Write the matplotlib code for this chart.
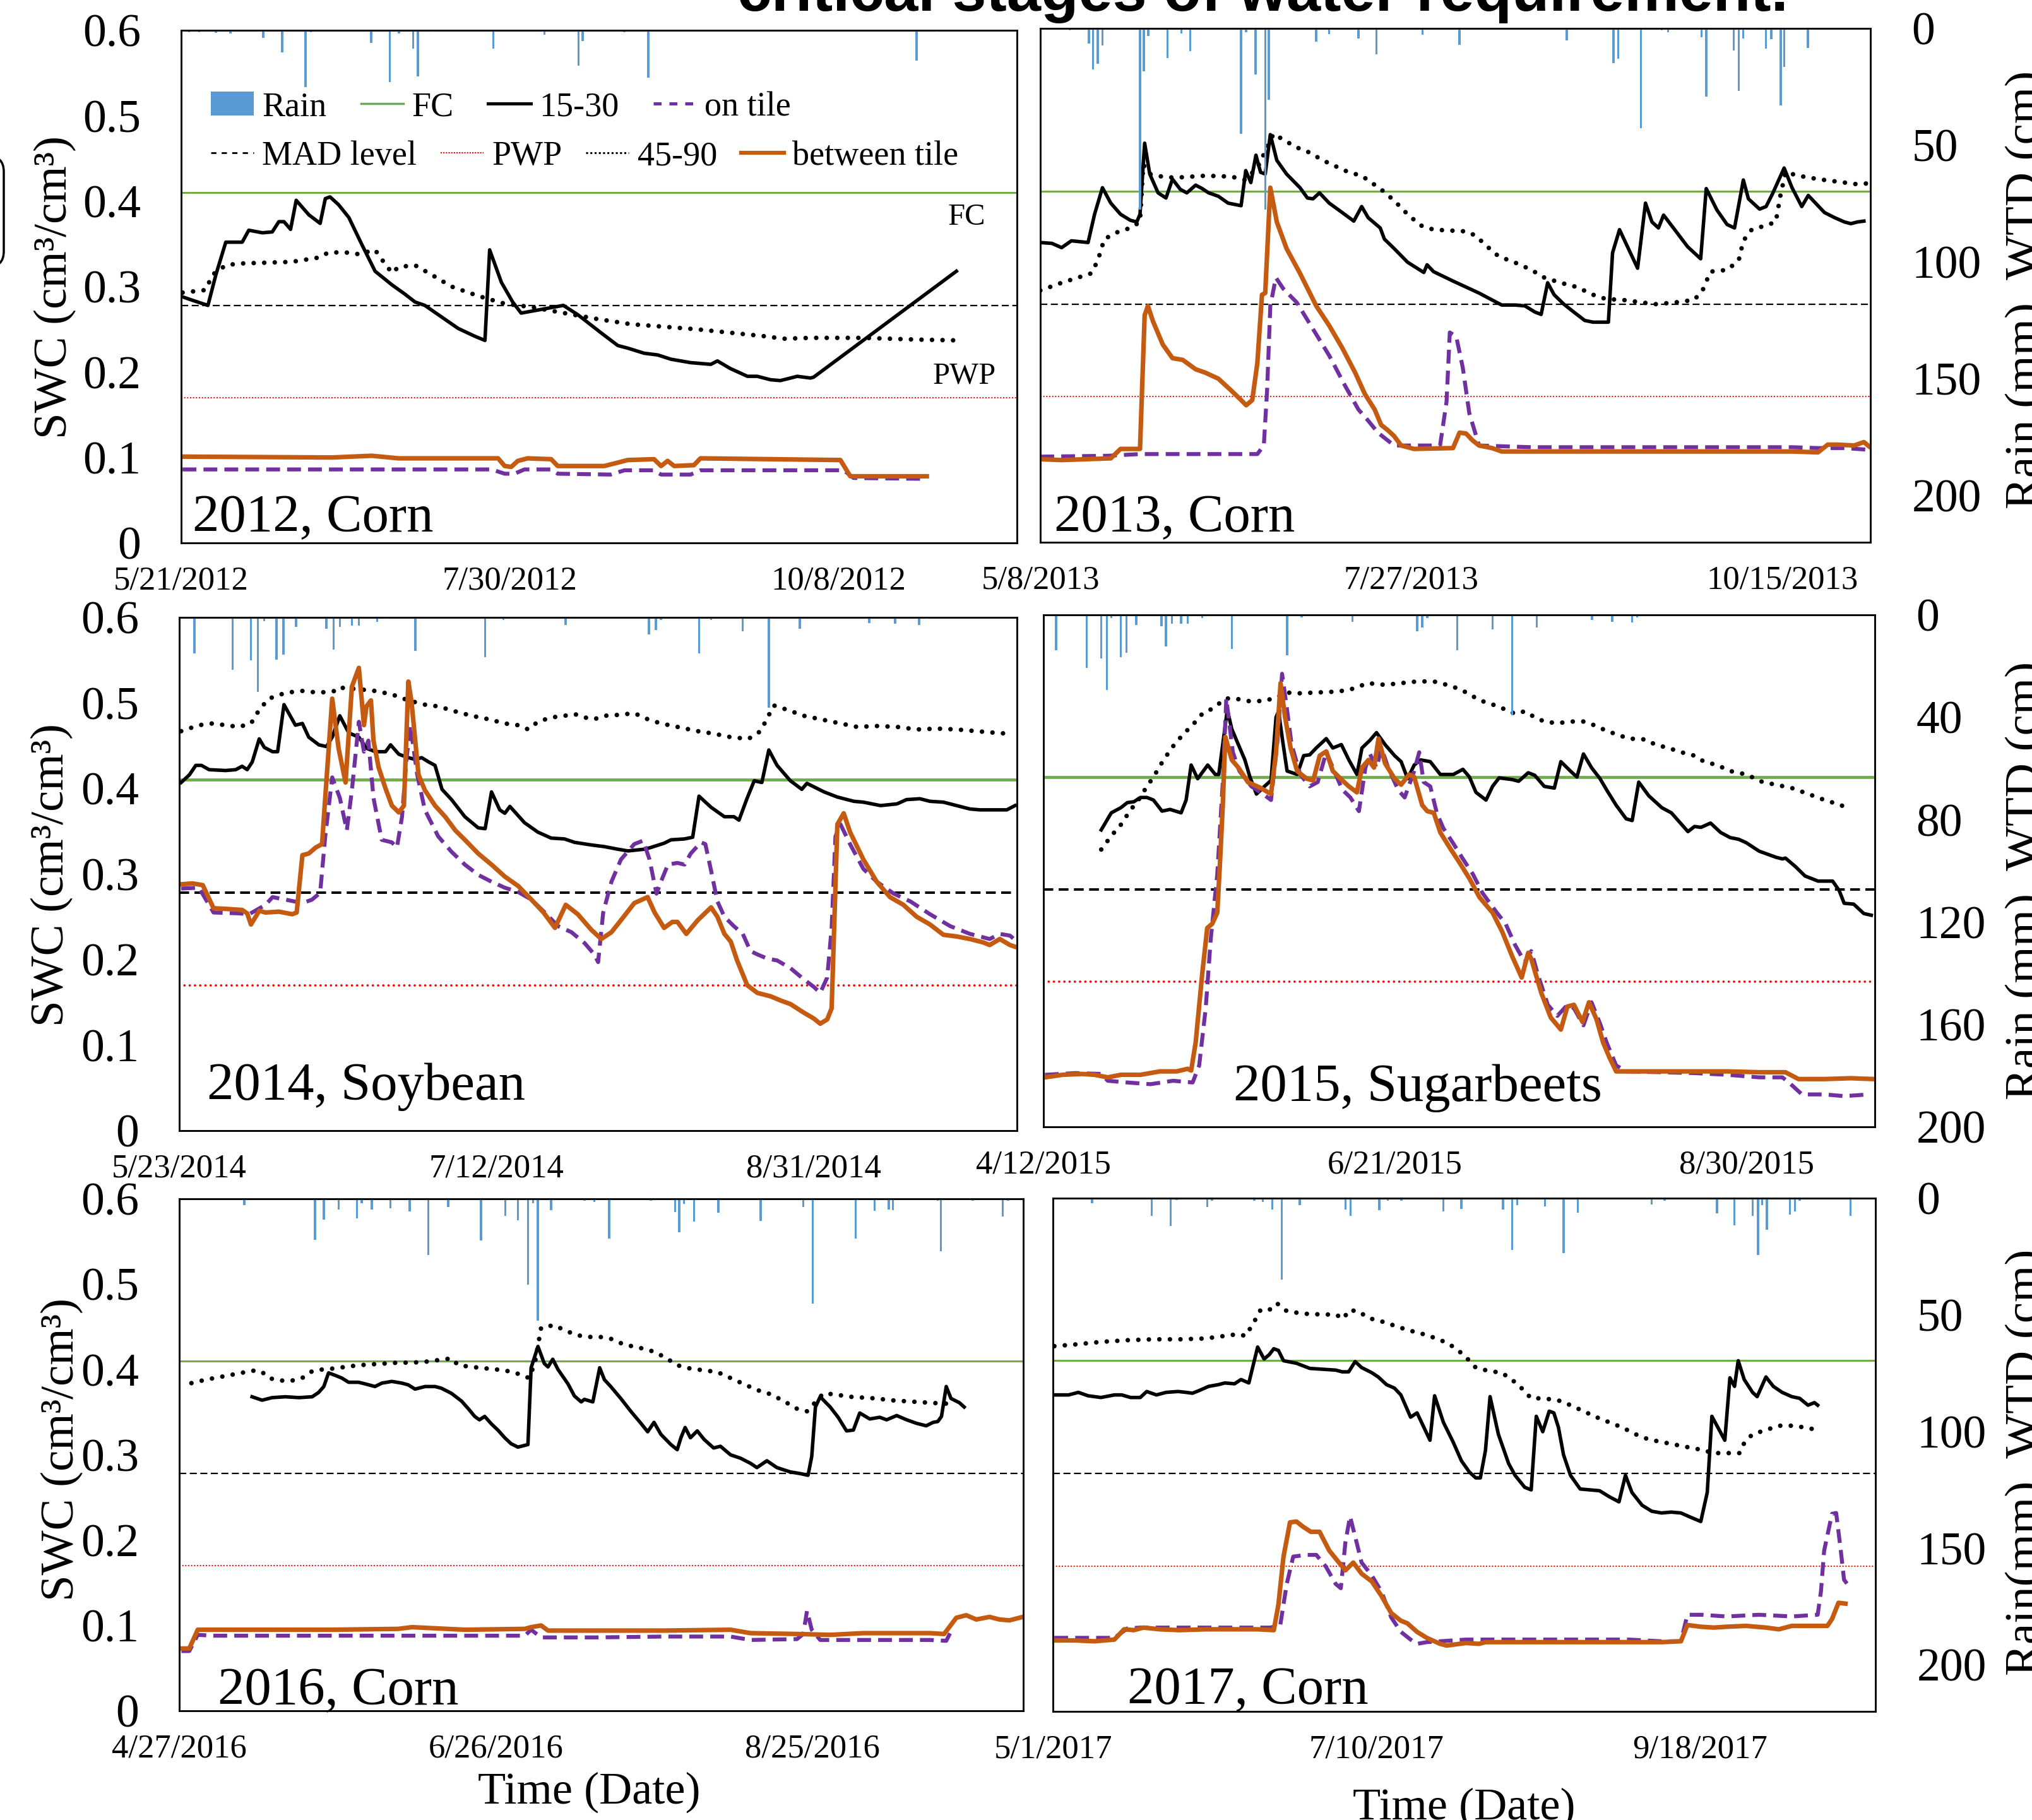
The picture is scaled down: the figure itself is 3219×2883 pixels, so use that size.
import matplotlib
matplotlib.use('Agg')
import matplotlib.pyplot as plt
from matplotlib.lines import Line2D
from matplotlib.patches import Patch, FancyBboxPatch

plt.rcParams['font.family'] = ['Liberation Serif', 'DejaVu Serif']

W, H = 3219, 2883

FC = 0.41
MAD = 0.278
PWP = 0.17

green = '#70AD47'
blue = '#5B9BD5'
orange = '#C55A11'
purple = '#7030A0'

swc_ticks = [0, 0.1, 0.2, 0.3, 0.4, 0.5, 0.6]
swc_labels = ['0', '0.1', '0.2', '0.3', '0.4', '0.5', '0.6']

# ---------------- 2012, Corn ----------------
dates_2012 = ['5/21/2012', '7/30/2012', '10/8/2012']
s2012_1530 = [(0.3, 0.288), (2.4, 0.284), (5.7, 0.278), (7.4, 0.314), (9.5, 0.352), (13.0, 0.352), (14.4, 0.366),
              (17.3, 0.363), (19.4, 0.364), (20.8, 0.376), (21.9, 0.376), (23.3, 0.367), (24.5, 0.401), (27.2, 0.384),
              (29.6, 0.374), (30.7, 0.403), (31.7, 0.405), (33.5, 0.396), (35.7, 0.381), (38.5, 0.349), (41.3, 0.318),
              (44.9, 0.302), (47.7, 0.291), (49.8, 0.282), (51.9, 0.278), (59.0, 0.251), (62.5, 0.242), (64.7, 0.237),
              (65.7, 0.343), (68.2, 0.305), (70.6, 0.282), (72.4, 0.269), (81.4, 0.278), (84.5, 0.267), (89.4, 0.246),
              (93.0, 0.231), (95.1, 0.228), (98.6, 0.222), (101.5, 0.220), (104.3, 0.215), (108.5, 0.211),
              (112.8, 0.209), (114.2, 0.213), (117.0, 0.204), (120.6, 0.195), (122.7, 0.195), (125.5, 0.191),
              (127.6, 0.190), (129.8, 0.193), (131.2, 0.195), (134.0, 0.193), (134.7, 0.194), (165.1, 0.318)]
s2012_4590 = [(0.3, 0.293), (5.2, 0.296), (6.7, 0.314), (9.5, 0.325), (12.3, 0.327), (18.0, 0.328), (23.6, 0.329),
              (29.3, 0.334), (31.4, 0.340), (35.0, 0.340), (37.8, 0.338), (41.3, 0.343), (42.7, 0.332), (44.9, 0.316),
              (46.3, 0.323), (49.8, 0.325), (53.3, 0.314), (57.6, 0.300), (63.3, 0.289), (68.9, 0.280), (74.6, 0.276),
              (81.6, 0.269), (88.7, 0.262), (95.8, 0.256), (102.9, 0.253), (109.9, 0.250), (117.0, 0.246),
              (124.1, 0.242), (128.3, 0.239), (134.0, 0.240), (145.3, 0.240), (156.6, 0.238), (165.8, 0.237)]
s2012_btw = [(0.3, 0.101), (32.1, 0.100), (40.6, 0.102), (46.3, 0.099), (67.5, 0.099), (68.9, 0.090), (70.3, 0.089),
             (71.7, 0.096), (73.8, 0.099), (78.8, 0.098), (80.2, 0.090), (90.1, 0.090), (93.0, 0.094), (95.1, 0.097),
             (100.7, 0.098), (102.2, 0.090), (103.6, 0.096), (105.0, 0.090), (109.2, 0.091), (110.6, 0.099),
             (140.4, 0.097), (142.5, 0.078), (158.8, 0.078)]
s2012_on = [(0.3, 0.086), (66.1, 0.086), (68.9, 0.081), (71.0, 0.081), (73.1, 0.086), (78.8, 0.086), (80.2, 0.081),
            (91.5, 0.080), (94.4, 0.085), (100.7, 0.085), (102.2, 0.080), (108.5, 0.080), (110.6, 0.085),
            (141.1, 0.085), (143.2, 0.076), (158.1, 0.075), (158.8, 0.078)]
rain_2012 = [(1.7, 0.8), (3.8, 0.8), (7.4, 1.1), (10.5, 1.3), (17.5, 3.3), (21.5, 9.4), (26.5, 24.3), (27.6, 0.8),
             (40.5, 5.3), (44.4, 22.2), (46.4, 1.3), (49.4, 7.9), (50.4, 19.7), (53.6, 0.5), (66.5, 7.9), (77.4, 2.0),
             (84.6, 15.1), (85.5, 4.6), (94.4, 0.8), (99.5, 20.2), (117.0, 0.3), (125.5, 0.3), (156.6, 13.1),
             (160.9, 0.5)]

# ---------------- 2013, Corn ----------------
dates_2013 = ['5/8/2013', '7/27/2013', '10/15/2013']
s2013_1530 = [(0, 0.350), (2.5, 0.349), (4.6, 0.344), (6.7, 0.352), (10.3, 0.350), (11.7, 0.383), (13.4, 0.414),
              (15.2, 0.396), (17.3, 0.383), (19.4, 0.376), (20.8, 0.374), (21.5, 0.383), (22.5, 0.466), (23.6, 0.430),
              (25.4, 0.408), (27.1, 0.402), (28.5, 0.424), (30.2, 0.412), (31.6, 0.408), (33.5, 0.417), (34.9, 0.413),
              (36.3, 0.408), (38.4, 0.404), (40.5, 0.396), (43.3, 0.393), (44.3, 0.434), (45.4, 0.420), (46.5, 0.452),
              (47.5, 0.432), (48.5, 0.430), (49.6, 0.476), (51.0, 0.446), (53.1, 0.430), (56.0, 0.414), (57.6, 0.402),
              (58.8, 0.401), (60.2, 0.408), (62.3, 0.396), (65.1, 0.385), (67.6, 0.375), (69.3, 0.392), (70.7, 0.379),
              (73.3, 0.367), (74.2, 0.354), (76.3, 0.343), (79.2, 0.327), (82.7, 0.315), (83.4, 0.324), (84.8, 0.316),
              (89.0, 0.305), (94.6, 0.291), (97.4, 0.283), (99.5, 0.277), (102.4, 0.277), (104.5, 0.276),
              (106.6, 0.269), (108.0, 0.266), (109.4, 0.303), (110.8, 0.289), (112.9, 0.278), (115.0, 0.269),
              (117.4, 0.259), (119.2, 0.257), (122.5, 0.257), (123.4, 0.338), (124.9, 0.365), (128.8, 0.320),
              (130.5, 0.396), (131.9, 0.374), (133.3, 0.367), (134.4, 0.382), (136.1, 0.370), (139.6, 0.345),
              (142.4, 0.331), (143.6, 0.413), (145.9, 0.388), (148.1, 0.371), (149.7, 0.367), (151.6, 0.423),
              (152.7, 0.401), (155.1, 0.389), (156.5, 0.392), (157.9, 0.407), (160.4, 0.437), (162.1, 0.414),
              (164.2, 0.392), (165.6, 0.405), (169.1, 0.385), (171.3, 0.379), (173.4, 0.374), (174.8, 0.372),
              (176.2, 0.374), (177.6, 0.375)]
s2013_4590 = [(0, 0.294), (4.6, 0.303), (11.0, 0.314), (12.4, 0.329), (13.8, 0.354), (16.6, 0.362), (19.4, 0.367),
              (21.5, 0.374), (22.2, 0.441), (23.6, 0.430), (27.1, 0.426), (29.9, 0.426), (35.6, 0.428), (41.2, 0.427),
              (44.0, 0.423), (46.8, 0.437), (50.3, 0.477), (52.4, 0.470), (55.3, 0.461), (58.1, 0.455), (60.9, 0.446),
              (63.7, 0.439), (66.5, 0.432), (69.3, 0.428), (71.4, 0.420), (73.5, 0.412), (76.3, 0.399), (79.2, 0.383),
              (82.0, 0.370), (84.8, 0.365), (91.8, 0.363), (93.9, 0.358), (96.0, 0.347), (98.8, 0.334),
              (103.1, 0.325), (105.9, 0.318), (108.7, 0.309), (112.2, 0.303), (115.7, 0.298), (119.2, 0.289),
              (122.0, 0.284), (125.6, 0.283), (129.8, 0.280), (132.6, 0.278), (136.8, 0.280), (141.0, 0.283),
              (142.8, 0.294), (144.5, 0.316), (148.1, 0.318), (150.6, 0.329), (151.6, 0.352), (153.4, 0.365),
              (156.5, 0.370), (158.6, 0.374), (159.6, 0.405), (160.7, 0.432), (163.5, 0.428), (167.7, 0.424),
              (172.0, 0.421), (176.2, 0.418), (178.3, 0.419)]
s2013_btw = [(0, 0.097), (4.6, 0.096), (15.2, 0.098), (17.3, 0.109), (21.5, 0.109), (22.5, 0.265), (23.2, 0.276),
             (24.3, 0.258), (26.4, 0.231), (28.5, 0.215), (30.7, 0.213), (33.5, 0.202), (35.6, 0.198), (38.4, 0.191),
             (41.2, 0.177), (43.3, 0.166), (44.4, 0.160), (45.7, 0.166), (46.8, 0.209), (47.8, 0.289), (48.5, 0.291),
             (49.6, 0.414), (51.0, 0.374), (53.1, 0.343), (56.0, 0.314), (59.5, 0.276), (62.3, 0.253), (65.1, 0.227),
             (67.9, 0.198), (70.0, 0.173), (72.1, 0.155), (73.5, 0.137), (74.9, 0.131), (76.3, 0.124), (77.8, 0.113),
             (80.6, 0.109), (89.0, 0.110), (90.4, 0.128), (91.8, 0.127), (93.2, 0.119), (94.6, 0.113), (97.4, 0.110),
             (99.5, 0.106), (119.9, 0.106), (134.0, 0.106), (162.1, 0.106), (167.7, 0.105), (169.8, 0.114),
             (172.0, 0.114), (175.5, 0.113), (177.6, 0.117), (178.7, 0.112)]
s2013_on = [(0, 0.100), (14.5, 0.101), (21.5, 0.103), (46.8, 0.103), (48.2, 0.113), (48.9, 0.177), (49.6, 0.276),
            (50.8, 0.309), (52.4, 0.296), (55.3, 0.280), (58.8, 0.249), (62.3, 0.218), (65.8, 0.182), (68.6, 0.155),
            (70.7, 0.142), (72.8, 0.128), (76.3, 0.113), (86.2, 0.113), (87.6, 0.164), (88.3, 0.245), (89.7, 0.240),
            (91.1, 0.204), (92.5, 0.151), (94.6, 0.113), (105.9, 0.111), (134.0, 0.111), (162.1, 0.111),
            (167.7, 0.110), (173.4, 0.110), (178.7, 0.108)]
rain_2013 = [(6.3, 0.8), (10.5, 6.6), (11.4, 17.7), (12.4, 15.2), (13.4, 7.4), (21.5, 77.5), (22.3, 18.4), (23.3, 3.3),
             (27.4, 12.6), (30.4, 2.1), (32.3, 9.8), (43.3, 45.1), (44.4, 1.6), (46.4, 19.7), (48.5, 77.5),
             (49.3, 30.6), (59.5, 5.7), (62.3, 2.5), (68.6, 4.4), (72.5, 11.1), (82.4, 2.8), (90.4, 6.9),
             (113.5, 5.2), (123.6, 14.8), (124.6, 13.1), (129.5, 42.6), (134.0, 0.8), (135.4, 1.6), (142.6, 3.8),
             (143.6, 29.2), (149.5, 9.5), (150.6, 26.7), (151.6, 4.4), (156.5, 8.7), (157.6, 4.6), (159.7, 33.1),
             (160.4, 16.4), (165.5, 8.5)]

# ---------------- 2014, Soybean ----------------
dates_2014 = ['5/23/2014', '7/12/2014', '8/31/2014']
s2014_1530 = [(0.3, 0.407), (1.6, 0.416), (2.6, 0.427), (3.5, 0.427), (4.7, 0.422), (7.3, 0.421), (8.9, 0.422),
              (9.9, 0.426), (10.7, 0.422), (11.5, 0.431), (12.6, 0.458), (13.4, 0.448), (14.7, 0.443), (15.5, 0.443),
              (16.5, 0.498), (18.3, 0.474), (19.4, 0.476), (20.4, 0.460), (22.0, 0.451), (23.2, 0.449), (24.1, 0.460),
              (25.3, 0.485), (26.7, 0.465), (28.3, 0.460), (29.5, 0.447), (30.9, 0.443), (32.5, 0.443), (33.3, 0.451),
              (34.6, 0.440), (36.1, 0.436), (37.2, 0.434), (38.2, 0.436), (39.3, 0.431), (40.3, 0.427), (41.4, 0.399),
              (42.9, 0.387), (45.0, 0.367), (47.1, 0.354), (48.2, 0.353), (49.2, 0.396), (50.5, 0.375), (51.3, 0.371),
              (52.1, 0.379), (54.4, 0.360), (56.5, 0.349), (58.6, 0.342), (60.7, 0.341), (62.3, 0.337), (64.9, 0.334),
              (67.0, 0.332), (69.1, 0.329), (70.7, 0.327), (73.3, 0.329), (74.3, 0.331), (76.4, 0.336), (77.5, 0.340),
              (79.6, 0.341), (80.9, 0.343), (81.9, 0.391), (83.8, 0.378), (85.9, 0.367), (87.4, 0.367), (88.2, 0.363),
              (89.5, 0.389), (90.6, 0.409), (91.8, 0.407), (92.9, 0.445), (94.2, 0.427), (96.3, 0.409), (98.1, 0.399),
              (98.9, 0.406), (101.6, 0.396), (103.7, 0.390), (106.3, 0.385), (107.8, 0.384), (110.5, 0.380),
              (113.1, 0.382), (114.6, 0.387), (116.7, 0.388), (118.3, 0.385), (120.4, 0.384), (122.5, 0.380),
              (124.6, 0.376), (126.2, 0.375), (128.8, 0.375), (130.4, 0.375), (131.7, 0.380)]
s2014_4590 = [(0.3, 0.467), (3.1, 0.474), (5.2, 0.476), (7.3, 0.474), (9.4, 0.472), (11.3, 0.476), (12.6, 0.492),
              (14.1, 0.505), (16.8, 0.512), (19.4, 0.514), (22.0, 0.512), (24.6, 0.514), (25.1, 0.518), (28.3, 0.516),
              (30.9, 0.514), (33.5, 0.510), (36.1, 0.503), (38.7, 0.498), (40.8, 0.496), (44.0, 0.489), (46.1, 0.485),
              (48.7, 0.481), (51.3, 0.476), (53.4, 0.474), (55.0, 0.469), (56.5, 0.478), (58.6, 0.483), (60.7, 0.485),
              (62.3, 0.487), (63.9, 0.483), (65.4, 0.481), (67.0, 0.485), (69.1, 0.486), (71.7, 0.488), (73.8, 0.481),
              (75.9, 0.476), (78.5, 0.472), (81.7, 0.467), (84.3, 0.464), (86.9, 0.460), (89.7, 0.458), (91.6, 0.467),
              (92.7, 0.483), (93.7, 0.497), (95.8, 0.492), (98.4, 0.485), (101.0, 0.481), (104.2, 0.476),
              (106.8, 0.472), (109.9, 0.473), (113.1, 0.472), (116.2, 0.469), (119.4, 0.470), (122.5, 0.469),
              (125.6, 0.467), (128.8, 0.465), (130.7, 0.464)]
s2014_btw = [(0.3, 0.288), (2.1, 0.289), (3.7, 0.287), (5.4, 0.260), (7.9, 0.259), (9.9, 0.258), (10.7, 0.254),
             (11.3, 0.241), (12.6, 0.257), (13.6, 0.255), (15.7, 0.256), (17.8, 0.253), (18.5, 0.255), (19.4, 0.322),
             (20.4, 0.324), (21.5, 0.331), (22.5, 0.335), (23.0, 0.389), (24.1, 0.505), (25.1, 0.447), (26.2, 0.407),
             (27.2, 0.519), (28.3, 0.541), (29.1, 0.474), (29.5, 0.496), (30.2, 0.503), (30.6, 0.456), (31.4, 0.425),
             (32.5, 0.400), (33.5, 0.380), (34.6, 0.372), (35.4, 0.380), (36.1, 0.525), (36.6, 0.501), (37.7, 0.416),
             (38.7, 0.398), (40.3, 0.380), (41.9, 0.367), (43.5, 0.351), (45.0, 0.340), (47.1, 0.324), (49.2, 0.311),
             (51.3, 0.297), (53.4, 0.286), (55.5, 0.270), (57.4, 0.255), (59.2, 0.237), (60.9, 0.264), (62.8, 0.253),
             (64.9, 0.235), (66.5, 0.224), (68.1, 0.232), (69.6, 0.246), (71.7, 0.266), (73.8, 0.273), (74.9, 0.255),
             (76.4, 0.237), (77.7, 0.244), (78.5, 0.244), (79.9, 0.230), (81.7, 0.246), (83.8, 0.261), (84.8, 0.250),
             (85.9, 0.230), (86.9, 0.221), (87.9, 0.199), (89.5, 0.170), (91.1, 0.161), (93.2, 0.157), (94.8, 0.152),
             (96.3, 0.148), (98.4, 0.138), (100.0, 0.131), (101.0, 0.125), (102.1, 0.130), (102.8, 0.143),
             (103.7, 0.358), (104.7, 0.371), (105.7, 0.349), (107.8, 0.317), (109.9, 0.291), (112.0, 0.273),
             (114.1, 0.264), (116.2, 0.250), (118.3, 0.241), (120.4, 0.229), (122.5, 0.227), (124.6, 0.224),
             (126.7, 0.220), (127.7, 0.217), (129.3, 0.224), (130.9, 0.217), (131.7, 0.215)]
s2014_on = [(0.3, 0.283), (3.1, 0.284), (5.4, 0.255), (9.4, 0.254), (11.0, 0.253), (13.6, 0.264), (14.7, 0.273),
            (16.8, 0.270), (19.4, 0.266), (20.9, 0.270), (22.2, 0.278), (23.0, 0.344), (24.1, 0.413), (25.3, 0.389),
            (26.4, 0.351), (27.2, 0.398), (28.3, 0.478), (29.1, 0.443), (29.8, 0.456), (30.6, 0.389), (31.9, 0.340),
            (33.5, 0.337), (34.3, 0.331), (35.1, 0.367), (35.8, 0.434), (36.4, 0.474), (37.5, 0.416), (38.7, 0.375),
            (40.8, 0.344), (42.9, 0.326), (45.0, 0.311), (47.1, 0.299), (49.2, 0.291), (51.3, 0.284), (53.4, 0.279),
            (55.5, 0.270), (57.6, 0.255), (59.7, 0.239), (61.8, 0.232), (63.9, 0.219), (65.4, 0.206), (66.0, 0.197),
            (66.8, 0.255), (68.1, 0.291), (69.6, 0.317), (71.7, 0.335), (73.1, 0.339), (74.1, 0.317), (75.2, 0.277),
            (75.9, 0.291), (77.0, 0.311), (78.5, 0.313), (79.6, 0.311), (80.6, 0.324), (82.2, 0.337), (82.9, 0.335),
            (83.8, 0.304), (84.8, 0.268), (85.9, 0.250), (87.4, 0.239), (88.8, 0.230), (90.0, 0.210), (91.1, 0.206),
            (92.7, 0.201), (94.2, 0.199), (96.3, 0.190), (98.4, 0.177), (100.0, 0.168), (101.0, 0.161),
            (102.1, 0.179), (102.8, 0.237), (103.4, 0.344), (104.2, 0.358), (105.7, 0.335), (107.8, 0.306),
            (109.9, 0.291), (112.6, 0.277), (115.2, 0.268), (118.3, 0.253), (121.5, 0.239), (124.6, 0.230),
            (127.7, 0.224), (129.3, 0.230), (130.9, 0.228), (131.7, 0.223)]
rain_2014 = [(2.4, 14.0), (8.4, 20.4), (11.3, 16.7), (12.4, 29.1), (13.4, 1.5), (15.3, 16.4), (16.4, 14.5),
             (18.4, 3.7), (23.2, 4.5), (24.3, 12.5), (25.3, 3.6), (27.2, 3.3), (28.3, 3.3), (31.2, 1.8), (32.5, 0.6),
             (37.2, 13.0), (48.2, 15.5), (51.1, 1.0), (60.9, 3.0), (74.0, 6.6), (75.1, 4.8), (75.9, 1.0), (78.8, 0.3),
             (81.9, 14.0), (83.8, 1.0), (88.8, 5.5), (92.9, 35.3), (97.8, 4.5), (108.7, 2.1), (112.8, 2.5),
             (116.6, 3.0), (117.8, 0.6)]

# ---------------- 2015, Sugarbeets ----------------
dates_2015 = ['4/12/2015', '6/21/2015', '8/30/2015']
s2015_1530 = [(11.5, 0.348), (13.5, 0.368), (15.4, 0.374), (16.7, 0.380), (18.0, 0.381), (19.3, 0.386), (20.6, 0.386),
              (21.9, 0.383), (23.6, 0.370), (25.2, 0.372), (27.4, 0.368), (28.4, 0.383), (29.4, 0.424), (30.7, 0.408),
              (32.7, 0.424), (34.2, 0.413), (34.9, 0.413), (36.6, 0.489), (37.5, 0.466), (38.8, 0.448), (40.1, 0.430),
              (41.1, 0.410), (42.4, 0.390), (44.0, 0.399), (45.3, 0.406), (46.3, 0.480), (46.8, 0.487), (47.6, 0.453),
              (48.5, 0.417), (50.5, 0.413), (51.8, 0.435), (53.0, 0.436), (54.3, 0.444), (56.3, 0.455), (57.6, 0.444),
              (59.3, 0.448), (60.8, 0.430), (62.4, 0.413), (63.4, 0.444), (65.0, 0.453), (66.3, 0.462), (68.0, 0.448),
              (69.9, 0.435), (71.2, 0.428), (72.5, 0.408), (73.8, 0.424), (75.1, 0.430), (77.0, 0.428), (79.0, 0.413),
              (81.6, 0.413), (83.5, 0.419), (84.8, 0.410), (86.1, 0.392), (88.1, 0.383), (89.4, 0.399), (90.7, 0.409),
              (93.3, 0.407), (94.6, 0.405), (96.5, 0.415), (97.8, 0.412), (99.7, 0.399), (101.7, 0.397),
              (103.0, 0.428), (104.9, 0.417), (106.2, 0.410), (107.5, 0.437), (109.1, 0.421), (110.8, 0.408),
              (112.1, 0.395), (114.0, 0.377), (116.0, 0.361), (117.2, 0.359), (118.5, 0.404), (120.5, 0.388),
              (123.1, 0.374), (125.0, 0.368), (128.3, 0.346), (129.6, 0.352), (130.9, 0.351), (132.8, 0.356),
              (134.8, 0.345), (136.7, 0.339), (138.4, 0.337), (139.9, 0.333), (142.5, 0.323), (145.8, 0.316),
              (147.1, 0.314), (147.7, 0.315), (149.7, 0.305), (151.6, 0.294), (154.2, 0.288), (157.1, 0.288),
              (158.4, 0.277), (159.4, 0.262), (161.3, 0.261), (163.3, 0.250), (164.8, 0.248)]
s2015_4590 = [(11.5, 0.325), (13.5, 0.341), (15.4, 0.354), (17.4, 0.372), (18.7, 0.381), (20.6, 0.399), (21.9, 0.410),
              (23.9, 0.430), (25.8, 0.446), (27.8, 0.460), (29.7, 0.471), (31.6, 0.484), (33.9, 0.491), (36.2, 0.502),
              (38.1, 0.502), (40.7, 0.499), (44.0, 0.499), (46.6, 0.504), (48.5, 0.509), (50.5, 0.508), (54.3, 0.509),
              (58.2, 0.510), (60.8, 0.512), (62.8, 0.516), (64.5, 0.520), (68.0, 0.518), (71.2, 0.520), (74.4, 0.522),
              (77.7, 0.522), (80.3, 0.518), (82.9, 0.513), (84.8, 0.507), (86.8, 0.500), (89.4, 0.495), (92.0, 0.489),
              (93.9, 0.484), (95.8, 0.487), (97.8, 0.480), (99.7, 0.475), (102.3, 0.473), (104.9, 0.475),
              (107.5, 0.475), (109.5, 0.471), (111.4, 0.466), (114.0, 0.460), (116.6, 0.455), (119.8, 0.454),
              (121.8, 0.448), (124.4, 0.444), (127.0, 0.439), (129.6, 0.435), (131.5, 0.428), (134.1, 0.424),
              (136.7, 0.417), (139.9, 0.413), (143.2, 0.404), (145.8, 0.401), (149.0, 0.397), (152.3, 0.390),
              (155.5, 0.383), (158.8, 0.377), (160.7, 0.370)]
s2015_btw = [(0.3, 0.058), (3.8, 0.061), (7.7, 0.062), (10.2, 0.061), (12.8, 0.058), (15.4, 0.061), (19.3, 0.061),
             (23.2, 0.065), (26.5, 0.065), (28.7, 0.068), (29.4, 0.066), (30.3, 0.099), (31.6, 0.179), (32.6, 0.233),
             (33.6, 0.238), (34.6, 0.251), (35.1, 0.305), (35.7, 0.377), (36.2, 0.457), (37.5, 0.430), (38.8, 0.421),
             (40.7, 0.404), (43.3, 0.397), (45.3, 0.390), (46.3, 0.439), (47.2, 0.520), (48.1, 0.480), (49.2, 0.444),
             (50.5, 0.417), (52.4, 0.408), (53.7, 0.406), (55.0, 0.435), (56.3, 0.440), (57.6, 0.417), (59.5, 0.406),
             (60.8, 0.399), (62.4, 0.392), (63.4, 0.421), (64.7, 0.430), (65.8, 0.421), (66.7, 0.455), (68.0, 0.426),
             (69.9, 0.408), (71.2, 0.401), (72.8, 0.413), (73.8, 0.410), (75.4, 0.377), (76.4, 0.370), (77.7, 0.368),
             (79.0, 0.345), (80.9, 0.327), (82.9, 0.309), (84.8, 0.291), (86.8, 0.269), (89.4, 0.251), (91.3, 0.229),
             (93.3, 0.200), (95.2, 0.175), (96.5, 0.204), (97.1, 0.197), (99.1, 0.157), (101.0, 0.128),
             (103.0, 0.114), (104.3, 0.141), (105.6, 0.143), (107.3, 0.123), (108.6, 0.146), (110.1, 0.126),
             (111.4, 0.099), (112.7, 0.081), (114.0, 0.065), (117.9, 0.065), (123.1, 0.065), (129.6, 0.065),
             (136.1, 0.065), (142.5, 0.064), (147.7, 0.064), (150.3, 0.056), (155.5, 0.056), (160.7, 0.057),
             (165.2, 0.056)]
s2015_on = [(0.3, 0.061), (6.4, 0.063), (11.5, 0.062), (12.8, 0.054), (16.7, 0.052), (21.3, 0.050), (25.8, 0.054),
            (29.7, 0.052), (31.0, 0.072), (32.3, 0.139), (33.3, 0.220), (34.6, 0.296), (35.7, 0.404), (36.4, 0.502),
            (37.7, 0.439), (39.0, 0.417), (41.4, 0.399), (43.7, 0.390), (45.3, 0.383), (46.6, 0.453), (47.5, 0.531),
            (48.4, 0.493), (49.4, 0.448), (51.1, 0.413), (53.0, 0.399), (54.6, 0.404), (56.3, 0.439), (57.6, 0.421),
            (59.5, 0.395), (61.1, 0.386), (62.8, 0.370), (64.1, 0.421), (65.0, 0.437), (66.3, 0.421), (67.3, 0.444),
            (68.6, 0.421), (70.6, 0.395), (71.9, 0.386), (73.8, 0.417), (74.8, 0.439), (75.7, 0.404), (77.0, 0.399),
            (78.3, 0.368), (79.6, 0.350), (81.6, 0.332), (83.5, 0.314), (85.5, 0.296), (87.4, 0.274), (90.0, 0.253),
            (92.0, 0.238), (93.9, 0.213), (95.8, 0.193), (97.1, 0.206), (98.4, 0.179), (100.4, 0.143),
            (102.3, 0.130), (104.3, 0.143), (105.6, 0.139), (107.5, 0.119), (109.1, 0.146), (110.8, 0.121),
            (112.1, 0.099), (114.0, 0.072), (116.0, 0.065), (123.1, 0.064), (129.6, 0.063), (136.1, 0.061),
            (142.5, 0.058), (147.1, 0.058), (148.4, 0.052), (151.0, 0.038), (155.5, 0.038), (159.4, 0.036),
            (164.3, 0.038)]
rain_2015 = [(2.5, 13.9), (8.6, 20.6), (11.5, 16.9), (12.6, 29.3), (13.5, 1.2), (15.4, 16.4), (16.5, 14.7),
             (18.5, 3.9), (23.5, 4.5), (24.4, 12.4), (25.6, 3.4), (27.4, 3.4), (28.7, 3.4), (31.6, 1.2), (37.5, 13.2),
             (48.5, 15.8), (51.4, 0.9), (61.5, 2.7), (74.4, 6.4), (75.4, 4.9), (76.4, 1.2), (82.4, 13.8), (89.4, 5.7),
             (93.3, 39.3), (98.2, 4.9), (109.2, 1.9), (113.2, 2.7), (117.2, 3.0), (118.2, 0.9)]

# ---------------- 2016, Corn ----------------
dates_2016 = ['4/27/2016', '6/26/2016', '8/25/2016']
s2016_1530 = [(13.8, 0.368), (15.7, 0.364), (17.6, 0.367), (20.1, 0.368), (22.7, 0.367), (25.2, 0.368), (26.4, 0.373),
              (27.4, 0.380), (28.3, 0.396), (29.6, 0.393), (30.8, 0.390), (32.1, 0.385), (34.0, 0.385), (35.3, 0.383),
              (37.1, 0.380), (38.4, 0.384), (40.3, 0.386), (42.2, 0.384), (43.4, 0.382), (44.7, 0.377), (46.6, 0.380),
              (48.5, 0.380), (49.7, 0.378), (51.6, 0.372), (53.5, 0.363), (54.8, 0.354), (56.0, 0.345), (56.9, 0.341),
              (57.9, 0.345), (59.2, 0.336), (60.4, 0.329), (61.7, 0.320), (62.9, 0.313), (64.2, 0.309), (66.1, 0.312),
              (66.7, 0.402), (68.0, 0.427), (69.2, 0.407), (69.9, 0.403), (70.8, 0.412), (71.8, 0.400), (73.7, 0.383),
              (74.9, 0.369), (76.2, 0.362), (76.8, 0.365), (78.4, 0.362), (79.7, 0.402), (80.6, 0.388), (81.8, 0.380),
              (83.7, 0.366), (85.6, 0.351), (87.5, 0.337), (88.8, 0.327), (90.0, 0.338), (91.3, 0.324), (93.2, 0.312),
              (94.4, 0.306), (95.1, 0.320), (95.9, 0.332), (96.9, 0.320), (98.2, 0.328), (99.5, 0.318), (101.3, 0.308),
              (102.6, 0.310), (104.5, 0.300), (106.4, 0.296), (108.3, 0.290), (109.5, 0.285), (111.4, 0.293),
              (113.3, 0.285), (115.8, 0.280), (117.7, 0.278), (119.2, 0.276), (119.9, 0.298), (120.6, 0.356),
              (121.5, 0.368), (123.4, 0.356), (124.9, 0.344), (126.5, 0.328), (127.8, 0.329), (129.0, 0.349),
              (130.9, 0.342), (132.8, 0.344), (134.1, 0.341), (136.0, 0.346), (137.9, 0.341), (139.7, 0.337),
              (141.6, 0.334), (142.9, 0.338), (143.8, 0.339), (144.5, 0.345), (145.4, 0.380), (146.3, 0.366),
              (147.9, 0.361), (148.8, 0.356)]
s2016_4590 = [(2.3, 0.384), (5.0, 0.388), (7.6, 0.391), (10.1, 0.394), (12.6, 0.397), (14.5, 0.399), (15.7, 0.397),
              (17.0, 0.390), (18.9, 0.387), (21.4, 0.387), (23.3, 0.390), (25.2, 0.398), (27.1, 0.400), (29.0, 0.401),
              (31.5, 0.403), (34.0, 0.405), (36.5, 0.406), (39.0, 0.407), (41.5, 0.408), (44.1, 0.408), (46.6, 0.409),
              (49.1, 0.411), (51.6, 0.413), (52.9, 0.405), (55.4, 0.403), (58.5, 0.401), (61.7, 0.399), (64.2, 0.395),
              (66.3, 0.390), (67.4, 0.407), (68.6, 0.449), (71.1, 0.452), (73.0, 0.446), (75.5, 0.440), (78.1, 0.438),
              (79.9, 0.438), (81.8, 0.436), (84.4, 0.429), (86.9, 0.426), (89.4, 0.422), (91.9, 0.415), (94.4, 0.405),
              (96.9, 0.401), (99.5, 0.399), (102.0, 0.397), (104.5, 0.390), (107.0, 0.383), (109.5, 0.376),
              (112.1, 0.371), (114.6, 0.363), (117.1, 0.354), (119.0, 0.351), (120.2, 0.359), (122.1, 0.372),
              (124.0, 0.371), (127.2, 0.368), (129.7, 0.367), (132.2, 0.366), (134.7, 0.364), (137.2, 0.363),
              (139.7, 0.362), (142.3, 0.361), (144.8, 0.360), (147.3, 0.360)]
s2016_btw = [(0.4, 0.073), (1.9, 0.073), (3.5, 0.095), (6.3, 0.095), (16.4, 0.095), (29.0, 0.095), (41.5, 0.096),
             (44.1, 0.098), (54.1, 0.095), (65.5, 0.096), (66.7, 0.098), (68.6, 0.100), (69.9, 0.094), (79.3, 0.094),
             (91.9, 0.094), (104.5, 0.095), (108.3, 0.091), (117.1, 0.090), (123.4, 0.089), (129.7, 0.091),
             (142.3, 0.091), (145.0, 0.090), (147.3, 0.109), (149.2, 0.112), (151.1, 0.107), (153.6, 0.110),
             (155.5, 0.107), (157.4, 0.106), (159.9, 0.110)]
s2016_on = [(0.4, 0.070), (1.9, 0.070), (3.5, 0.089), (6.3, 0.088), (16.4, 0.088), (29.0, 0.088), (41.5, 0.088),
            (54.1, 0.088), (65.5, 0.088), (66.7, 0.095), (68.6, 0.086), (79.3, 0.086), (91.9, 0.087), (104.5, 0.087),
            (108.3, 0.083), (117.1, 0.084), (118.3, 0.090), (119.0, 0.117), (119.9, 0.095), (121.5, 0.083),
            (129.7, 0.083), (142.3, 0.083), (145.4, 0.082), (146.3, 0.093)]
rain_2016 = [(12.3, 2.7), (25.7, 17.5), (27.4, 8.9), (30.2, 4.5), (33.7, 8.4), (34.6, 1.8), (36.5, 4.5), (40.0, 4.1),
             (43.7, 5.4), (47.2, 24.2), (51.0, 3.6), (57.2, 17.9), (61.8, 7.2), (64.2, 9.3), (66.1, 36.9),
             (67.1, 1.8), (68.0, 52.4), (70.5, 5.0), (76.8, 0.9), (78.7, 1.3), (81.5, 17.0), (89.4, 0.9), (94.0, 5.7),
             (94.8, 14.3), (95.7, 2.3), (97.6, 9.8), (102.2, 5.9), (110.2, 9.5), (118.3, 3.6), (120.1, 45.1),
             (128.2, 17.0), (131.8, 5.2), (134.5, 4.5), (135.3, 5.0), (143.8, 0.9), (144.4, 22.4), (150.4, 0.9),
             (156.1, 7.5), (157.1, 0.9)]

# ---------------- 2017, Corn ----------------
dates_2017 = ['5/1/2017', '7/10/2017', '9/18/2017']
s2017_1530 = [(0.3, 0.370), (3.4, 0.370), (5.5, 0.373), (7.6, 0.369), (10.4, 0.367), (13.3, 0.370), (14.9, 0.370),
              (16.8, 0.367), (18.9, 0.367), (20.3, 0.374), (22.4, 0.370), (24.5, 0.373), (27.1, 0.374), (28.8, 0.373),
              (30.2, 0.372), (31.6, 0.375), (33.7, 0.380), (35.8, 0.382), (37.2, 0.384), (39.3, 0.383), (40.7, 0.388),
              (42.4, 0.384), (44.3, 0.426), (45.7, 0.412), (46.8, 0.417), (47.8, 0.424), (48.8, 0.422), (49.9, 0.410),
              (52.7, 0.407), (55.6, 0.401), (58.4, 0.400), (61.2, 0.399), (62.6, 0.397), (64.0, 0.397), (65.4, 0.409),
              (66.8, 0.402), (69.0, 0.396), (70.4, 0.391), (72.2, 0.382), (73.9, 0.378), (75.3, 0.370), (77.4, 0.344),
              (78.8, 0.349), (81.6, 0.317), (82.6, 0.369), (84.5, 0.338), (86.6, 0.315), (88.4, 0.293), (90.1, 0.280),
              (91.5, 0.273), (92.5, 0.273), (93.6, 0.305), (94.6, 0.368), (96.4, 0.324), (98.6, 0.290), (100.0, 0.276),
              (102.1, 0.262), (103.5, 0.259), (104.6, 0.345), (106.0, 0.327), (107.4, 0.351), (108.4, 0.349),
              (109.4, 0.332), (110.5, 0.300), (112.0, 0.276), (114.1, 0.260), (118.3, 0.258), (120.4, 0.251),
              (122.5, 0.245), (123.9, 0.276), (125.3, 0.256), (127.5, 0.241), (129.6, 0.234), (131.7, 0.232),
              (133.8, 0.233), (135.9, 0.232), (138.0, 0.227), (140.2, 0.222), (141.6, 0.256), (142.6, 0.345),
              (143.7, 0.334), (145.4, 0.317), (146.5, 0.390), (147.5, 0.380), (148.3, 0.410), (149.6, 0.388),
              (151.4, 0.373), (152.4, 0.368), (154.3, 0.391), (155.9, 0.380), (157.8, 0.373), (159.9, 0.368),
              (161.6, 0.366), (163.4, 0.358), (164.8, 0.361), (165.5, 0.358)]
s2017_4590 = [(0.3, 0.427), (4.8, 0.429), (10.4, 0.432), (16.1, 0.434), (21.7, 0.435), (27.4, 0.435), (33.0, 0.436),
              (37.2, 0.439), (40.0, 0.441), (41.7, 0.439), (43.6, 0.456), (45.0, 0.470), (47.1, 0.470), (48.5, 0.477),
              (50.6, 0.468), (54.1, 0.465), (58.4, 0.464), (61.2, 0.464), (62.9, 0.459), (64.0, 0.469), (66.1, 0.468),
              (68.2, 0.460), (71.1, 0.456), (73.9, 0.451), (76.7, 0.446), (80.2, 0.441), (83.0, 0.436), (85.2, 0.431),
              (87.3, 0.424), (89.4, 0.414), (91.5, 0.402), (94.3, 0.398), (97.1, 0.396), (99.3, 0.388), (101.4, 0.378),
              (103.5, 0.366), (106.3, 0.366), (109.8, 0.363), (112.0, 0.358), (114.8, 0.351), (117.6, 0.344),
              (120.4, 0.338), (123.2, 0.332), (126.1, 0.324), (128.9, 0.318), (131.7, 0.315), (134.5, 0.312),
              (137.3, 0.309), (140.2, 0.306), (143.0, 0.302), (146.5, 0.302), (148.6, 0.302), (149.7, 0.315),
              (151.4, 0.324), (154.3, 0.329), (157.1, 0.334), (159.9, 0.334), (162.7, 0.332), (165.5, 0.329)]
s2017_btw = [(0.3, 0.083), (4.8, 0.083), (9.0, 0.082), (13.3, 0.084), (15.4, 0.096), (17.5, 0.095), (19.6, 0.098),
             (23.1, 0.096), (27.4, 0.095), (33.0, 0.096), (38.6, 0.096), (41.5, 0.096), (44.3, 0.096), (47.8, 0.095),
             (48.8, 0.125), (49.9, 0.181), (51.3, 0.221), (52.7, 0.222), (54.1, 0.216), (55.8, 0.210), (57.7, 0.210),
             (59.8, 0.188), (61.9, 0.174), (63.3, 0.165), (65.0, 0.174), (66.8, 0.161), (69.0, 0.152), (71.1, 0.135),
             (73.2, 0.115), (75.3, 0.106), (76.7, 0.103), (78.8, 0.093), (80.9, 0.086), (83.8, 0.079), (85.2, 0.077),
             (89.4, 0.080), (92.2, 0.079), (93.6, 0.081), (103.5, 0.081), (117.6, 0.081), (131.7, 0.081),
             (135.9, 0.082), (137.3, 0.101), (140.2, 0.099), (143.0, 0.098), (145.8, 0.099), (150.0, 0.100),
             (154.3, 0.098), (157.1, 0.096), (159.9, 0.100), (167.6, 0.100), (168.6, 0.108), (170.0, 0.127),
             (171.5, 0.126)]
s2017_on = [(0.3, 0.086), (4.8, 0.086), (13.3, 0.086), (16.1, 0.097), (18.9, 0.098), (24.5, 0.098), (33.0, 0.098),
            (40.0, 0.098), (47.1, 0.098), (49.2, 0.101), (50.6, 0.149), (52.0, 0.181), (54.8, 0.183), (57.0, 0.183),
            (59.1, 0.169), (61.2, 0.149), (62.3, 0.144), (63.3, 0.198), (64.3, 0.228), (65.7, 0.198), (66.8, 0.174),
            (69.0, 0.159), (71.1, 0.140), (73.2, 0.110), (75.3, 0.093), (77.4, 0.084), (78.8, 0.079), (80.9, 0.081),
            (89.4, 0.084), (103.5, 0.084), (117.6, 0.084), (124.6, 0.084), (131.7, 0.082), (135.9, 0.082),
            (137.3, 0.113), (140.2, 0.113), (145.8, 0.111), (152.8, 0.113), (159.9, 0.111), (165.5, 0.113),
            (166.2, 0.140), (166.9, 0.188), (168.6, 0.231), (169.5, 0.232), (170.5, 0.188), (171.2, 0.154),
            (171.9, 0.149)]
rain_2017 = [(8.5, 2.1), (21.4, 7.5), (25.5, 11.9), (26.8, 0.9), (33.4, 3.9), (34.4, 1.2), (43.6, 1.2), (45.4, 1.6),
             (47.5, 4.8), (49.5, 34.8), (53.4, 3.0), (63.3, 4.8), (64.4, 7.5), (70.6, 5.2), (72.5, 1.2), (75.4, 1.2),
             (84.5, 5.7), (88.4, 4.5), (97.4, 4.8), (99.4, 22.3), (100.5, 3.0), (106.5, 3.4), (110.5, 23.5),
             (113.6, 6.1), (129.6, 2.7), (132.4, 1.2), (143.7, 6.6), (147.5, 11.6), (151.4, 7.5), (152.6, 24.4),
             (153.5, 3.0), (154.5, 13.4), (159.5, 7.0), (160.6, 5.7), (161.6, 1.2), (172.6, 7.5)]

# panel layout in pixels: left, top, right, bottom
panels = [
    dict(box=(287, 48, 1611, 860), span=178, ticks=[0, 70, 140], tl=dates_2012, rain=rain_2012, rmax=220,
         a=s2012_1530, b=s2012_4590, on=s2012_on, bt=s2012_btw, name='2012, Corn', nxy=(0.0136, 0.022),
         right=None, thick=False),
    dict(box=(1648, 45, 2963, 859), span=179, ticks=[0, 80, 160], tl=dates_2013, rain=rain_2013, rmax=220,
         a=s2013_1530, b=s2013_4590, on=s2013_on, bt=s2013_btw, name='2013, Corn', nxy=(0.0167, 0.021),
         right=[0, 50, 100, 150, 200], thick=False),
    dict(box=(284, 978, 1611, 1791), span=132, ticks=[0, 50, 100], tl=dates_2014, rain=rain_2014, rmax=200,
         a=s2014_1530, b=s2014_4590, on=s2014_on, bt=s2014_btw, name='2014, Soybean', nxy=(0.033, 0.060),
         right=None, thick=True),
    dict(box=(1653, 974, 2970, 1785), span=165.5, ticks=[0, 70, 140], tl=dates_2015, rain=rain_2015, rmax=200,
         a=s2015_1530, b=s2015_4590, on=s2015_on, bt=s2015_btw, name='2015, Sugarbeets', nxy=(0.2285, 0.051),
         right=[0, 40, 80, 120, 160, 200], thick=True),
    dict(box=(284, 1899, 1621, 2710), span=160, ticks=[0, 60, 120], tl=dates_2016, rain=rain_2016, rmax=220,
         a=s2016_1530, b=s2016_4590, on=s2016_on, bt=s2016_btw, name='2016, Corn', nxy=(0.0456, 0.012),
         right=None, thick=False),
    dict(box=(1668, 1898, 2971, 2711), span=178, ticks=[0, 70, 140], tl=dates_2017, rain=rain_2017, rmax=220,
         a=s2017_1530, b=s2017_4590, on=s2017_on, bt=s2017_btw, name='2017, Corn', nxy=(0.0906, 0.015),
         right=[0, 50, 100, 150, 200], thick=False),
]

dot_style = (0, (0.01, 2.3))
dash_on = (0, (3.5, 1.8))

fig = plt.figure(figsize=(W / 100, H / 100), dpi=100)

axes = []
for p in panels:
    l, t, r, b = p['box']
    ax = fig.add_axes([l / W, 1 - b / H, (r - l) / W, (b - t) / H])
    axes.append(ax)
    if p['thick']:
        ax.axhline(FC, color=green, lw=3.4, zorder=1)
        ax.axhline(MAD, color='black', lw=2.8, linestyle=(0, (4, 2.2)), zorder=1)
        ax.axhline(PWP, color='red', lw=2.7, linestyle=(0, (0.01, 2.2)), dash_capstyle='round', zorder=1)
    else:
        ax.axhline(FC, color=green, lw=2.2, zorder=1)
        ax.axhline(MAD, color='black', lw=1.6, linestyle=(0, (5, 2.5)), zorder=1)
        ax.axhline(PWP, color='red', lw=1.4, linestyle=(0, (1, 1.4)), zorder=1)

    ax.plot([x for x, y in p['b']], [y for x, y in p['b']], color='black', lw=5.2,
            linestyle=dot_style, dash_capstyle='round', zorder=2)
    ax.plot([x for x, y in p['a']], [y for x, y in p['a']], color='black', lw=4.0, zorder=3)
    ax.plot([x for x, y in p['on']], [y for x, y in p['on']], color=purple, lw=4.5,
            linestyle=dash_on, zorder=4)
    ax.plot([x for x, y in p['bt']], [y for x, y in p['bt']], color=orange, lw=5.2, zorder=5)

    ax.set_xlim(0, p['span'])
    ax.set_ylim(0, 0.6)
    ax.set_xticks(p['ticks'])
    ax.set_xticklabels(p['tl'], fontsize=38)
    ax.tick_params(axis='x', length=0, pad=26)
    ax.set_yticks(swc_ticks)
    if p['right'] is None:
        ax.set_yticklabels(swc_labels, fontsize=53)
        ax.tick_params(axis='y', length=0, pad=46)
    else:
        ax.set_yticklabels([])
        ax.tick_params(axis='y', length=0, labelleft=False)
    for s in ax.spines.values():
        s.set_linewidth(1.8)

    ax2 = ax.twinx()
    bw = 3.5 / ((r - l) / p['span'])
    ax2.bar([x for x, y in p['rain']], [y for x, y in p['rain']], width=bw, color=blue, linewidth=0)
    ax2.set_ylim(p['rmax'], 0)
    ax2.set_xlim(0, p['span'])
    if p['right'] is None:
        ax2.set_yticks([])
    else:
        ax2.set_yticks(p['right'])
        ax2.set_yticklabels([str(v) for v in p['right']], fontsize=53)
        ax2.tick_params(axis='y', length=0, pad=47)
    for s in ax2.spines.values():
        s.set_linewidth(1.8)

    ax2.text(p['nxy'][0], p['nxy'][1], p['name'], transform=ax.transAxes, fontsize=61,
             ha='left', va='baseline', zorder=10)

# FC / PWP notes in first panel
axes[0].text(0.940, 0.635, 'FC', transform=axes[0].transAxes, fontsize=35, ha='center', va='center')
axes[0].text(0.937, 0.326, 'PWP', transform=axes[0].transAxes, fontsize=35, ha='center', va='center')

# legend in first panel, two rows
h1 = [Patch(facecolor=blue),
      Line2D([], [], color=green, lw=2.5),
      Line2D([], [], color='black', lw=3.6),
      Line2D([], [], color=purple, lw=3.6, linestyle=(0, (2.5, 2.5)))]
l1 = ['Rain', 'FC', '15-30', 'on tile']
h2 = [Line2D([], [], color='black', lw=2, linestyle=(0, (3, 3))),
      Line2D([], [], color='red', lw=1.5, linestyle=(0, (1, 1))),
      Line2D([], [], color='black', lw=2.2, linestyle=(0, (1, 1.2))),
      Line2D([], [], color=orange, lw=4.5)]
l2 = ['MAD level', 'PWP', '45-90', 'between tile']
leg1 = axes[0].legend(h1, l1, ncol=4, loc='center left', bbox_to_anchor=(334 / W, 1 - 170 / H),
                      bbox_transform=fig.transFigure, frameon=False, fontsize=39, handlelength=1.25,
                      handletextpad=0.25, columnspacing=1.0, borderpad=0, borderaxespad=0)
axes[0].add_artist(leg1)
axes[0].legend(h2, l2, ncol=4, loc='center left', bbox_to_anchor=(334 / W, 1 - 248 / H),
               bbox_transform=fig.transFigure, frameon=False, fontsize=39, handlelength=1.25,
               handletextpad=0.25, columnspacing=0.7, borderpad=0, borderaxespad=0)

# axis titles
for x, y in [(87, 455), (82, 1386), (98, 2296)]:
    fig.text(x / W, 1 - y / H, 'SWC (cm³/cm³)', rotation=90, ha='center', va='center', fontsize=54)
for y, txt in [(459, 'Rain (mm)  WTD (cm)'), (1395, 'Rain (mm)  WTD (cm)'), (2316, 'Rain(mm)  WTD (cm)')]:
    fig.text(3177 / W, 1 - y / H, txt, rotation=90, ha='left', va='center', fontsize=54)
fig.text(933 / W, 1 - 2857 / H, 'Time (Date)', ha='center', va='baseline', fontsize=52)
fig.text(2319 / W, 1 - 2882 / H, 'Time (Date)', ha='center', va='baseline', fontsize=52)

# cut-off title and box edge from the source page
fig.text(2000 / W, 1 - 17 / H, 'critical stages of water requirement.', family='Liberation Sans',
         weight='bold', fontsize=70, ha='center', va='baseline')
fig.patches.append(FancyBboxPatch((-2.0, 24.60), 2.06, 1.76, boxstyle='round,pad=0,rounding_size=0.25',
                                  transform=fig.dpi_scale_trans, fill=False, edgecolor='black', lw=2.5))

fig.savefig('out.png', dpi=100)
